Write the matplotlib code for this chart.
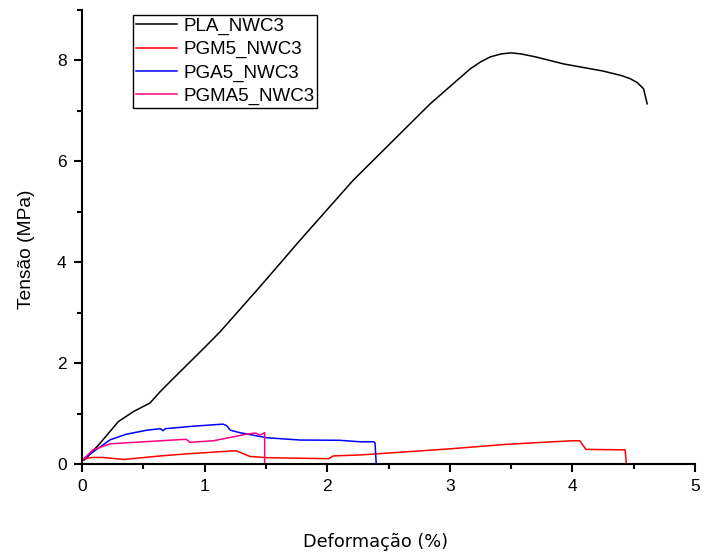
#!/usr/bin/python3
import matplotlib
matplotlib.use("Agg")
import matplotlib.pyplot as plt
from matplotlib.ticker import MultipleLocator

plt.rcParams['font.family'] = ['Liberation Sans', 'DejaVu Sans']

# strain (%) / stress (MPa)
pla_x = [0, 0.024, 0.147, 0.296, 0.42, 0.555, 0.636, 0.73, 1.0, 1.126, 1.45, 1.78, 2.21,
         2.5, 2.84, 3.0, 3.165, 3.25, 3.33, 3.42, 3.50, 3.58, 3.70, 3.93, 4.25, 4.40,
         4.47, 4.53, 4.58, 4.61]
pla_y = [0.06, 0.09, 0.41, 0.84, 1.04, 1.21, 1.43, 1.66, 2.31, 2.62, 3.51, 4.44, 5.62,
         6.32, 7.14, 7.48, 7.83, 7.97, 8.07, 8.13, 8.15, 8.13, 8.07, 7.93, 7.79, 7.70,
         7.64, 7.56, 7.44, 7.14]

pgm_x = [0, 0.05, 0.09, 0.17, 0.34, 0.64, 0.85, 1.23, 1.26, 1.37, 1.51, 2.01, 2.05, 2.27,
         3.0, 3.46, 3.99, 4.06, 4.11, 4.43, 4.44]
pgm_y = [0.07, 0.12, 0.13, 0.13, 0.09, 0.16, 0.20, 0.26, 0.26, 0.15, 0.125, 0.105, 0.16, 0.18,
         0.30, 0.39, 0.46, 0.46, 0.29, 0.28, 0.0]

pga_x = [0, 0.09, 0.23, 0.36, 0.53, 0.64, 0.66, 0.68, 0.91, 1.15, 1.18, 1.21, 1.29, 1.42,
         1.51, 1.78, 2.10, 2.27, 2.38, 2.39, 2.40]
pga_y = [0.07, 0.24, 0.48, 0.59, 0.67, 0.70, 0.66, 0.70, 0.75, 0.79, 0.76, 0.67, 0.62, 0.56,
         0.52, 0.475, 0.47, 0.44, 0.44, 0.42, 0.0]

pgma_x = [0, 0.09, 0.23, 0.5, 0.85, 0.88, 1.07, 1.34, 1.40, 1.42, 1.45, 1.49, 1.49]
pgma_y = [0.07, 0.28, 0.40, 0.44, 0.49, 0.43, 0.46, 0.59, 0.61, 0.61, 0.57, 0.62, 0.0]

labels = ['PLA_NWC3', 'PGM5_NWC3', 'PGA5_NWC3', 'PGMA5_NWC3']
colors = ['black', '#ff0000', '#0000ff', '#ff0080']

fig = plt.figure(figsize=(7.04, 5.56), dpi=100)
ax = fig.add_axes([82/704, 92/556, 613/704, 454/556])

series = [(pla_x, pla_y), (pgm_x, pgm_y), (pga_x, pga_y), (pgma_x, pgma_y)]
for (xs, ys), lab, c in zip(series, labels, colors):
    ax.plot(xs, ys, color=c, lw=1.1, label=lab)

ax.set_xlim(0, 5)
ax.set_ylim(0, 9)
ax.xaxis.set_major_locator(MultipleLocator(1))
ax.xaxis.set_minor_locator(MultipleLocator(0.5))
ax.yaxis.set_major_locator(MultipleLocator(2))
ax.yaxis.set_minor_locator(MultipleLocator(1))

for s in ['top', 'right']:
    ax.spines[s].set_visible(False)
for s in ['left', 'bottom']:
    ax.spines[s].set_linewidth(1.5)

ax.tick_params(which='major', direction='out', length=6, width=1.5, labelsize=12.5, pad=5)
ax.tick_params(which='minor', direction='out', length=3.5, width=1.5)

ax.set_xlabel('Deformação (%)', fontsize=12.8, family='DejaVu Sans')
ax.xaxis.set_label_coords((376-82)/613, (464-533)/454)
ax.set_ylabel('Tensão (MPa)', fontsize=13.8)
ax.yaxis.set_label_coords((35-82)/613, (464-249)/454)

leg = ax.legend(loc='upper left', bbox_to_anchor=(133/704, 1-15/556),
                bbox_transform=fig.transFigure, borderaxespad=0,
                prop={'size': 13.5},
                handlelength=2.2, handletextpad=0.32, labelspacing=0.32,
                borderpad=0.15, fancybox=False, framealpha=1)
leg.get_frame().set_edgecolor('black')
leg.get_frame().set_linewidth(1.0)

plt.savefig('out.png', dpi=100)
